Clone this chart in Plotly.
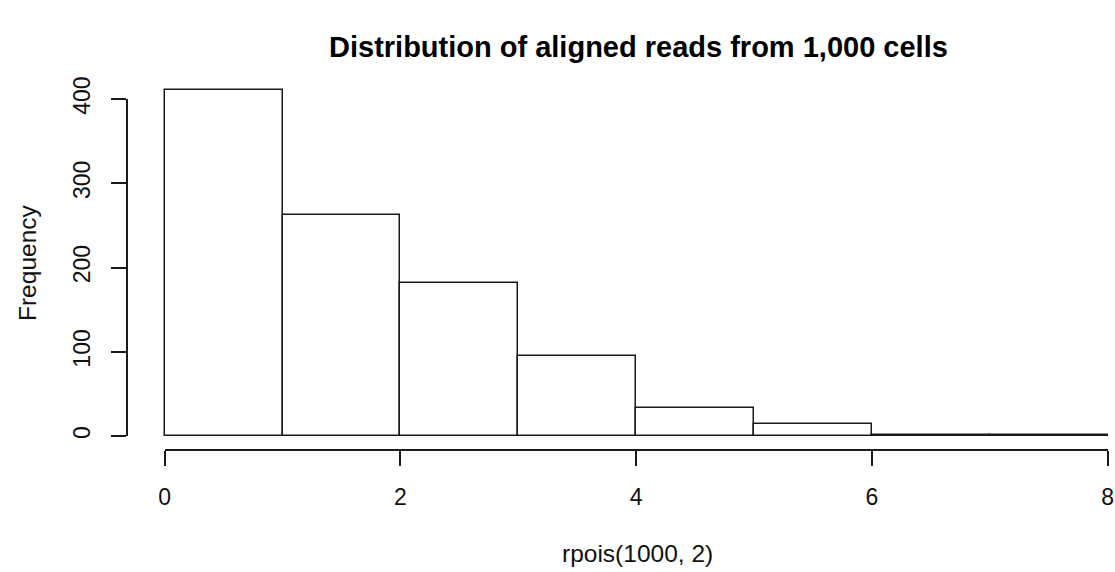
import plotly.graph_objects as go

# ---- data ----
breaks = [0, 1, 2, 3, 4, 5, 6, 7, 8]
counts = [411, 262, 182, 95, 33, 15, 1, 1]
x_ticks = [0, 2, 4, 6, 8]
y_ticks = [0, 100, 200, 300, 400]
title_text = "Distribution of aligned reads from 1,000 cells"
x_label = "rpois(1000, 2)"
y_label = "Frequency"

centers = [(breaks[i] + breaks[i + 1]) / 2 for i in range(len(counts))]
widths = [breaks[i + 1] - breaks[i] for i in range(len(counts))]

W, H = 1115, 572
L, R, T, B = 127, 0, 76, 122
pw = W - L - R
ph = H - T - B

# R-style extended ranges (4%)
xmin, xmax = breaks[0], breaks[-1]
ymax = max(counts)
xr0 = xmin - 0.04 * (xmax - xmin)
px_per_x = (1108 - 165) / (xmax - xmin)
xr1 = xr0 + pw / px_per_x
yr0 = -0.04 * ymax
yr1 = ymax + 0.04 * ymax

FONT = "Liberation Sans, Arial, Helvetica, sans-serif"
LINE = "#1a1a1a"
TXT = "#111"

fig = go.Figure()
fig.add_trace(go.Bar(
    x=centers, y=counts, width=widths,
    marker=dict(color="white", line=dict(color=LINE, width=1.5)),
    xaxis="x", yaxis="y", showlegend=False, hoverinfo="skip",
))
# invisible helper trace for the detached R-style axes
fig.add_trace(go.Scatter(
    x=[x_ticks[0], x_ticks[-1]], y=[y_ticks[0], y_ticks[-1]],
    mode="markers", marker=dict(opacity=0), xaxis="x2", yaxis="y2",
    showlegend=False, hoverinfo="skip",
))

# domains for the detached axes
x2d0 = (x_ticks[0] - xr0) / (xr1 - xr0)
x2d1 = (x_ticks[-1] - xr0) / (xr1 - xr0)
y2d0 = (y_ticks[0] - yr0) / (yr1 - yr0)
y2d1 = (y_ticks[-1] - yr0) / (yr1 - yr0)

fig.update_layout(
    width=W, height=H,
    margin=dict(l=L, r=R, t=T, b=B, autoexpand=False),
    paper_bgcolor="white", plot_bgcolor="rgba(0,0,0,0)",
    font=dict(family=FONT, size=23, color=TXT),
    bargap=0,
    xaxis=dict(range=[xr0, xr1], visible=False, domain=[0, 1], fixedrange=True, automargin=False),
    yaxis=dict(range=[yr0, yr1], visible=False, domain=[0, 1], fixedrange=True, automargin=False),
    xaxis2=dict(
        range=[x_ticks[0], x_ticks[-1]], domain=[x2d0, x2d1],
        anchor="free", position=0, automargin=False,
        tickvals=x_ticks, ticktext=[str(v) for v in x_ticks],
        ticks="outside", ticklen=15, tickwidth=1.5, tickcolor=LINE,
        showline=True, linecolor=LINE, linewidth=1.5,
        showgrid=False, zeroline=False, ticklabelstandoff=12,
        tickfont=dict(size=23, color=TXT), fixedrange=True,
    ),
    yaxis2=dict(
        range=[y_ticks[0], y_ticks[-1]], domain=[y2d0, y2d1],
        anchor="free", position=0, automargin=False,
        tickvals=y_ticks, ticktext=[str(v) for v in y_ticks],
        ticks="outside", ticklen=15, tickwidth=1.5, tickcolor=LINE,
        showline=True, linecolor=LINE, linewidth=1.5,
        showgrid=False, zeroline=False, tickangle=-90, ticklabelstandoff=12,
        tickfont=dict(size=23, color=TXT), fixedrange=True,
    ),
    annotations=[
        dict(text=y_label, xref="paper", yref="paper",
             x=(27 - L) / pw, y=0.5, xanchor="center", yanchor="middle",
             textangle=-90, showarrow=False, font=dict(size=24.5, color=TXT)),
        dict(text=x_label, xref="paper", yref="paper",
             x=(637 - L) / pw, y=(T + ph - 553) / ph,
             xanchor="center", yanchor="middle",
             showarrow=False, font=dict(size=24.5, color=TXT)),
        dict(text="<b>" + title_text + "</b>", xref="paper", yref="paper",
             x=(638 - L) / pw, y=(T + ph - 47) / ph,
             xanchor="center", yanchor="middle",
             showarrow=False, font=dict(size=29, color="#000")),
    ],
)

fig.write_html(
    "out.html",
    config={"displayModeBar": False},
    post_script="document.body.style.margin='0';document.body.style.padding='0';"
                "document.documentElement.style.overflow='hidden';",
)
